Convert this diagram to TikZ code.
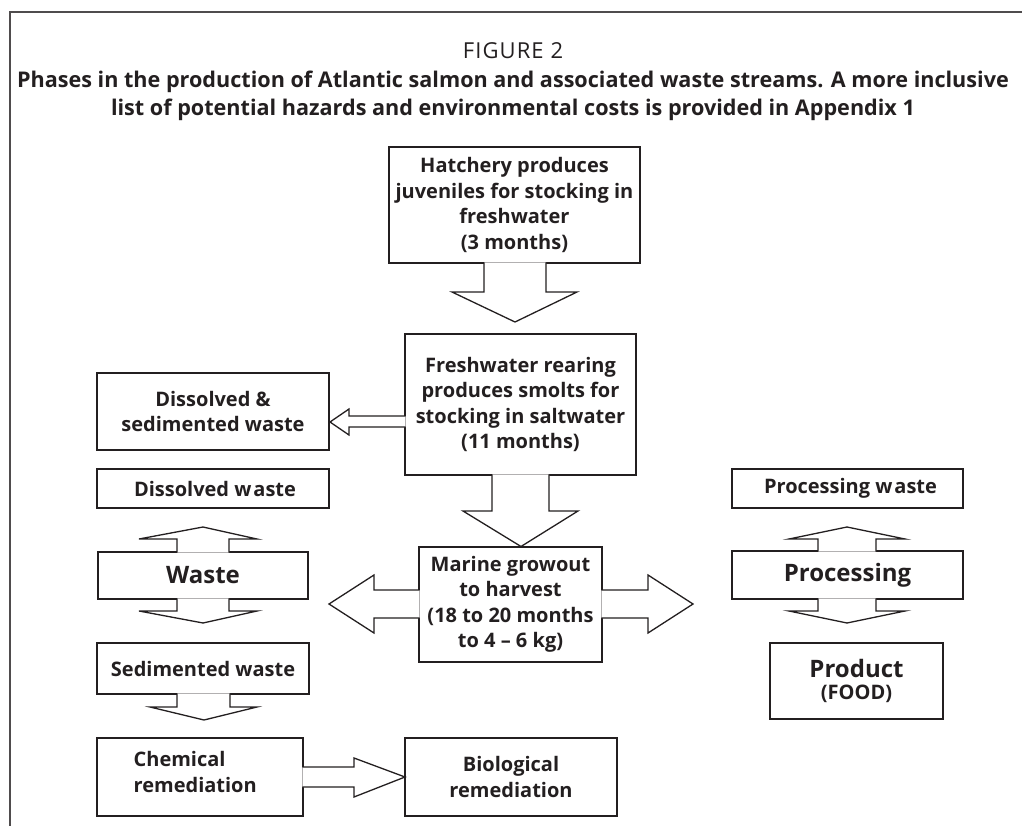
\documentclass[tikz,border=0pt]{standalone}
\usepackage{fontspec}
\setmainfont{Open Sans}
\definecolor{ink}{RGB}{35,31,32}
\begin{document}
\begin{tikzpicture}[x=1pt,y=-1pt,
  box/.style={draw=ink, line width=1.3pt, inner sep=0pt, align=center, text=ink,
    font=\bfseries\fontsize{20}{25.5}\selectfont},
  big/.style={font=\bfseries\fontsize{24}{28}\selectfont},
  arr/.style={draw=ink, line width=1.3pt, fill=white, line join=miter},
  frame/.style={draw=ink!80, line width=1.5pt}]
\useasboundingbox (0,0) rectangle (1022,826);
% frame
\draw[frame] (10,826) -- (10,12) -- (1022,12);
% title
\node[text=ink, font=\fontsize{22}{24}\selectfont\addfontfeatures{LetterSpace=5}] (fig) at (513,51) {FIGURE 2};
\node[text=ink, align=center, font=\bfseries\fontsize{21.6}{28}\selectfont] (title) at (513,96)
  {Phases in the production of Atlantic salmon and associated waste streams. A more inclusive\\
   list of potential hazards and environmental costs is provided in Appendix 1};
% boxes
\node[box, minimum width=251pt, minimum height=116pt] (hatch) at (514.5,205)
  {Hatchery produces\\juveniles for stocking in\\freshwater\\(3 months)};
\node[box, minimum width=231pt, minimum height=141pt] (fresh) at (520.5,404.5)
  {Freshwater rearing\\produces smolts for\\stocking in saltwater\\(11 months)};
\node[box, minimum width=232pt, minimum height=77pt] (ds) at (213,411.5)
  {Dissolved \&\\sedimented waste};
\node[box, minimum width=232pt, minimum height=39pt] (dw) at (213,488.5)
  {\hspace*{4pt}Dissolved w\kern2pt aste};
\node[box, big, minimum width=210pt, minimum height=47pt] (waste) at (203,575.5) {Waste};
\node[box, minimum width=183pt, minimum height=115pt] (marine) at (510.5,604.5)
  {Marine growout\\to harvest\\(18 to 20 months\\to 4 -- 6 kg)};
\node[box, minimum width=231pt, minimum height=39pt] (pw) at (847.5,488.5)
  {\hspace*{6pt}Processing w\kern2pt aste};
\node[box, big, minimum width=231pt, minimum height=48pt] (proc) at (847.5,575) {Processing};
\node[box, minimum width=173pt, minimum height=76pt] (prod) at (856.5,681)
  {{\fontsize{24}{28}\selectfont Product}\\[-3pt]{\fontsize{20}{22}\selectfont (FOOD)}};
\node[box, minimum width=212pt, minimum height=51pt] (sw) at (203,668.5) {Sedimented waste};
\node[box, minimum width=206pt, minimum height=78pt] (chem) at (200,777) {};
\node[box, draw=none, anchor=west, align=left] (chemT) at (133,772) {Chemical\\remediation};
\node[box, minimum width=212pt, minimum height=78pt] (bio) at (511,777) {Biological\\remediation};
% block arrows
\filldraw[arr] (484,262.3) -- (484,292) -- (452,292) -- (515,322) -- (577,292) -- (546,292) -- (546,262.3);
\filldraw[arr] (405.7,416) -- (349,416) -- (349,409) -- (330,422) -- (349,435) -- (349,427) -- (405.7,427);
\filldraw[arr] (492,474.3) -- (492,511) -- (463,511) -- (521,546.5) -- (578,511) -- (549,511) -- (549,474.3);
\filldraw[arr] (419.7,590) -- (374,590) -- (374,575) -- (329,604) -- (374,633) -- (374,618) -- (419.7,618);
\filldraw[arr] (601.3,590) -- (648,590) -- (648,575) -- (693,604) -- (648,633) -- (648,618) -- (601.3,618);
\filldraw[arr] (177,552.7) -- (177,539) -- (139,539) -- (203,527) -- (257,539) -- (229,539) -- (229,552.7);
\filldraw[arr] (177,598.3) -- (177,611) -- (139,611) -- (203,623) -- (257,611) -- (229,611) -- (229,598.3);
\filldraw[arr] (818,551.7) -- (818,539) -- (789,539) -- (847,527) -- (905,539) -- (876,539) -- (876,551.7);
\filldraw[arr] (818,598.3) -- (818,611) -- (789,611) -- (847,623) -- (905,611) -- (876,611) -- (876,598.3);
\filldraw[arr] (177,693.3) -- (177,707) -- (150,707) -- (204,720) -- (257,707) -- (230,707) -- (230,693.3);
\filldraw[arr] (302.3,767) -- (354,767) -- (354,758) -- (405,777) -- (354,797) -- (354,787) -- (302.3,787);
\end{tikzpicture}
\end{document}
